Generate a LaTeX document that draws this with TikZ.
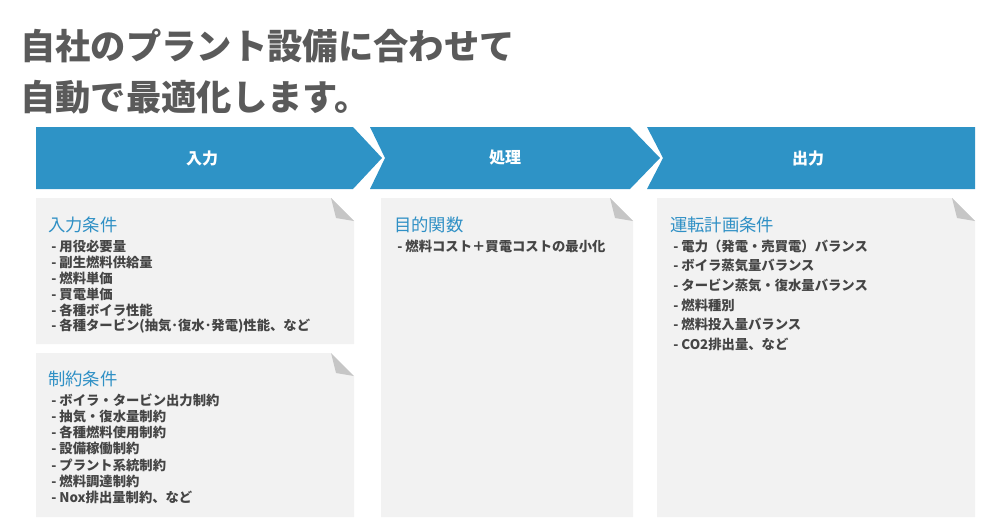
\documentclass[tikz,border=0pt]{standalone}
\usepackage{fontspec}
\setmainfont{Noto Sans CJK JP}
\usepackage{xcolor}
\usepackage{tikz}

\begin{document}
\begin{tikzpicture}[x=0.75pt,y=-0.75pt,
	heading/.style={anchor=west,inner sep=0pt,text=flowHead,font=\fontsize{13}{15}\selectfont},
	item/.style={anchor=west,inner sep=0pt,text=flowText,font=\fontsize{10}{12}\selectfont\bfseries},
	bannerlabel/.style={text=white,inner sep=0pt,font=\fontsize{12}{14}\selectfont\bfseries}]
\definecolor{flowBlue}{HTML}{2E93C6}
\definecolor{flowHead}{HTML}{2F90C5}
\definecolor{flowText}{HTML}{454545}
\definecolor{flowTitle}{HTML}{5A5A5A}
\definecolor{flowPanel}{HTML}{F2F2F2}
\definecolor{flowFold}{HTML}{C6C6C6}
\def\bt{127}
\def\bb{189}
\def\bm{158}
\def\fold{23}

\useasboundingbox (0,0) rectangle (1000,525);

% title
\node[anchor=west,inner sep=0pt,text=flowTitle,font=\fontsize{26.5}{30}\selectfont\bfseries] (title1) at (20,46) {自社のプラント設備に合わせて};
\node[anchor=west,inner sep=0pt,text=flowTitle,font=\fontsize{26.5}{30}\selectfont\bfseries] (title2) at (20,97.5) {自動で最適化します。};

% banners
\path[fill=flowBlue] (36,\bt) -- (353,\bt) -- (382,\bm) -- (353,\bb) -- (36,\bb) -- cycle;
\path[fill=flowBlue] (370,\bt) -- (630,\bt) -- (660,\bm) -- (630,\bb) -- (370,\bb) -- (385,\bm) -- cycle;
\path[fill=flowBlue] (647,\bt) -- (975,\bt) -- (975,\bb) -- (647,\bb) -- (663,\bm) -- cycle;
\node[bannerlabel] (bIn) at (202,\bm) {入力};
\node[bannerlabel] (bProc) at (505,\bm) {処理};
\node[bannerlabel] (bOut) at (808,\bm) {出力};

% panels with folded corner
\foreach \l/\t/\r/\b in {36/198/354/344, 36/353/354/517, 381/198/633/517, 657/198/975/517} {
	\path[fill=flowPanel] (\l,\t) -- (\r-\fold,\t) -- (\r,\t+\fold) -- (\r,\b) -- (\l,\b) -- cycle;
	\path[fill=flowFold] (\r-\fold,\t) -- (\r-\fold+5,\t+\fold-3) -- (\r,\t+\fold) -- cycle;
}

% input conditions
\node[heading] (hIn) at (48,224.5) {入力条件};
\foreach \i/\txt in {0/用役必要量, 1/副生燃料供給量, 2/燃料単価, 3/買電単価, 4/各種ボイラ性能,
	5/各種タービン(抽気･復水･発電)性能、など} {
	\node[item] (in\i) at (51,246+\i*16.1) {- \txt};
}

% constraints
\node[heading] (hCon) at (48,379) {制約条件};
\foreach \i/\txt in {0/ボイラ・タービン出力制約, 1/抽気・復水量制約, 2/各種燃料使用制約, 3/設備稼働制約,
	4/プラント系統制約, 5/燃料調達制約, 6/Nox排出量制約、など} {
	\node[item] (con\i) at (51,400+\i*16.25) {- \txt};
}

% objective
\node[heading] (hObj) at (394,224.5) {目的関数};
\node[item] (obj0) at (397,246) {- 燃料コスト＋買電コストの最小化};

% output
\node[heading] (hOut) at (670,224.5) {運転計画条件};
\foreach \i/\txt in {0/電力（発電・売買電）バランス, 1/ボイラ蒸気量バランス, 2/タービン蒸気・復水量バランス,
	3/燃料種別, 4/燃料投入量バランス, 5/CO2排出量、など} {
	\node[item] (out\i) at (673,246.5+\i*19.5) {- \txt};
}
\end{tikzpicture}
\end{document}
